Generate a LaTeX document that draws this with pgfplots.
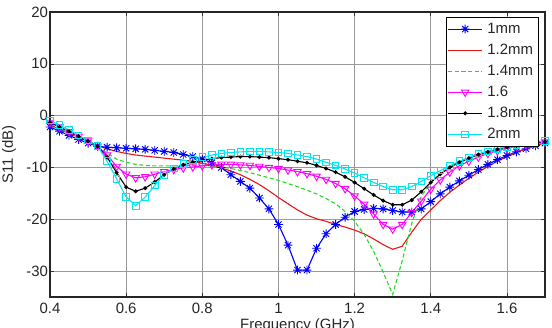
\documentclass[border=0pt]{standalone}
\usepackage{fontspec}
\setmainfont{Liberation Sans}
\usepackage{pgfplots}
\pgfplotsset{compat=1.18}

% Matlab-style asterisk: a plus and a cross laid over each other
\pgfdeclareplotmark{mstar}{%
  \pgfpathmoveto{\pgfqpoint{0pt}{\pgfplotmarksize}}%
  \pgfpathlineto{\pgfqpoint{0pt}{-\pgfplotmarksize}}%
  \pgfpathmoveto{\pgfqpoint{\pgfplotmarksize}{0pt}}%
  \pgfpathlineto{\pgfqpoint{-\pgfplotmarksize}{0pt}}%
  \pgfpathmoveto{\pgfqpoint{0.7071\pgfplotmarksize}{0.7071\pgfplotmarksize}}%
  \pgfpathlineto{\pgfqpoint{-0.7071\pgfplotmarksize}{-0.7071\pgfplotmarksize}}%
  \pgfpathmoveto{\pgfqpoint{-0.7071\pgfplotmarksize}{0.7071\pgfplotmarksize}}%
  \pgfpathlineto{\pgfqpoint{0.7071\pgfplotmarksize}{-0.7071\pgfplotmarksize}}%
  \pgfusepathqstroke}

\definecolor{mblue}{RGB}{0,0,255}
\definecolor{mred}{RGB}{235,20,20}
\definecolor{mgreen}{RGB}{40,215,40}
\definecolor{mmag}{RGB}{255,0,255}
\definecolor{mcyan}{RGB}{0,230,240}
\newcommand{\lblfont}{\fontsize{15}{18}\selectfont}

% S11 (dB) against frequency (GHz), one column per substrate thickness
\pgfplotstableread{
f     t10    t12    t14    t16    t18    t20
0.400 -2.2   -1.8   -1.6   -1.3   -1.3   -0.9
0.425 -3.0   -2.6   -2.5   -2.2   -2.2   -1.8
0.450 -3.8   -3.4   -3.3   -3.1   -3.1   -2.8
0.475 -4.6   -4.2   -4.2   -4.0   -4.0   -3.8
0.500 -5.3   -5.0   -5.0   -4.9   -4.9   -4.8
0.525 -5.9   -5.8   -5.9   -5.9   -5.9   -5.9
0.550 -6.1   -6.4   -7.2   -7.6   -8.0   -8.8
0.575 -6.2   -6.9   -8.4   -9.8   -11.0  -12.2
0.600 -6.3   -7.3   -9.0   -11.3  -13.8  -15.7
0.625 -6.4   -7.6   -9.4   -12.0  -14.6  -17.4
0.650 -6.5   -7.8   -9.6   -11.8  -14.0  -15.7
0.675 -6.7   -8.0   -9.7   -11.3  -12.8  -13.5
0.700 -6.9   -8.2   -9.7   -10.8  -11.4  -11.4
0.725 -7.1   -8.4   -9.7   -10.4  -10.3  -10.2
0.750 -7.5   -8.6   -9.6   -10.1  -9.5   -9.3
0.775 -7.9   -8.8   -9.6   -9.9   -9.0   -8.6
0.800 -8.4   -9.2   -9.6   -9.7   -8.6   -8.0
0.825 -9.1   -9.6   -9.7   -9.5   -8.3   -7.6
0.850 -10.0  -10.1  -9.9   -9.4   -8.1   -7.3
0.875 -11.4  -10.7  -10.2  -9.4   -8.0   -7.1
0.900 -12.7  -11.4  -10.6  -9.5   -7.9   -7.0
0.925 -14.0  -12.3  -11.0  -9.6   -7.9   -6.9
0.950 -15.9  -13.3  -11.5  -9.8   -8.0   -6.9
0.975 -18.0  -14.5  -12.0  -10.0  -8.1   -7.0
1.000 -21.0  -15.8  -12.5  -10.2  -8.3   -7.1
1.025 -25.0  -17.0  -13.1  -10.5  -8.5   -7.3
1.050 -29.8  -18.2  -13.7  -10.8  -8.8   -7.6
1.075 -29.8  -19.2  -14.4  -11.2  -9.1   -7.9
1.100 -25.6  -19.9  -15.1  -11.7  -9.6   -8.4
1.125 -22.8  -20.4  -16.0  -12.3  -10.2  -9.0
1.150 -21.0  -21.0  -17.0  -13.1  -10.9  -9.6
1.175 -19.6  -21.5  -18.5  -14.1  -11.8  -10.3
1.200 -18.5  -22.1  -20.4  -15.5  -12.9  -11.1
1.225 -18.1  -22.8  -22.9  -17.1  -14.1  -12.0
1.250 -17.9  -23.8  -26.2  -19.0  -15.3  -12.9
1.275 -18.0  -24.9  -30.2  -21.0  -16.4  -13.7
1.300 -18.3  -25.8  -34.5  -21.9  -17.2  -14.3
1.325 -18.6  -25.2  -28.0  -21.0  -17.2  -14.3
1.350 -18.6  -22.5  -20.8  -18.7  -16.3  -13.7
1.375 -18.0  -20.0  -15.6  -16.5  -14.7  -12.7
1.400 -16.6  -18.2  -12.8  -14.2  -12.9  -11.6
1.425 -15.1  -16.4  -11.2  -12.4  -11.3  -10.6
1.450 -13.8  -14.8  -10.0  -10.9  -10.0  -9.7
1.475 -12.6  -13.4  -9.1   -9.7   -9.0   -8.8
1.500 -11.5  -12.1  -8.3   -8.8   -8.2   -8.1
1.525 -10.4  -10.9  -7.7   -8.0   -7.5   -7.4
1.550 -9.4   -9.8   -7.1   -7.3   -7.0   -6.9
1.575 -8.5   -8.8   -6.7   -6.8   -6.5   -6.4
1.600 -7.7   -7.9   -6.3   -6.3   -6.1   -6.0
1.625 -7.0   -7.1   -6.0   -5.9   -5.8   -5.6
1.650 -6.4   -6.4   -5.7   -5.6   -5.5   -5.3
1.675 -5.8   -5.8   -5.4   -5.3   -5.2   -5.1
1.700 -5.3   -5.3   -5.2   -5.1   -5.0   -4.9
}\sdata

\begin{document}
\begin{tikzpicture}
\begin{axis}[
  at={(0,0)}, anchor=south west,
  scale only axis,
  width=495bp, height=285bp,
  xmin=0.4, xmax=1.7, ymin=-35, ymax=20,
  xtick={0.4,0.6,...,1.61},
  ytick={-30,-20,...,20},
  xticklabels={0.4,0.6,0.8,1,1.2,1.4,1.6},
  yticklabels={-30,-20,-10,0,10,20},
  /pgf/number format/assume math mode=true,
  tick align=inside,
  major tick length=4bp,
  tick style={black!80, line width=0.6bp},
  grid=major,
  major grid style={black!40, line width=0.6bp},
  axis line style={black!85, line width=1.1bp},
  ticklabel style={font=\lblfont, text=black!85},
  label style={font=\lblfont, text=black!85},
  xticklabel style={yshift=-2.5bp},
  yticklabel style={xshift=1.5bp},
  xlabel={Frequency (GHz)},
  xlabel style={yshift=2bp},
  ylabel={S11 (dB)},
  ylabel style={at={(axis description cs:-0.083,0.5)}, anchor=center},
  legend cell align=left,
  legend style={at={(rel axis cs:0.988,0.982)}, anchor=north east,
    draw=black, line width=0.9bp, fill=white, text=black!85,
    font=\lblfont,
    nodes={font=\lblfont, inner sep=4.6bp},
    row sep=0bp, inner xsep=1bp, inner ysep=1bp},
  legend image code/.code={%
    \draw[mark repeat=2, mark phase=2, #1]
      plot coordinates {(0bp,0bp) (17bp,0bp) (34bp,0bp)};},
  every axis plot/.append style={line width=1.1bp},
]
\addplot[mblue, mark=mstar, mark size=4.4bp, mark options={solid, line width=0.9bp}]
  table[x=f, y=t10] {\sdata};
\addlegendentry{1mm}
\addplot[mred, no marks] table[x=f, y=t12] {\sdata};
\addlegendentry{1.2mm}
\addplot[mgreen, dash pattern=on 4bp off 2.6bp, no marks] table[x=f, y=t14] {\sdata};
\addlegendentry{1.4mm}
\addplot[mmag, mark=triangle, mark size=4.3bp, mark options={solid, rotate=180, line width=0.9bp}]
  table[x=f, y=t16] {\sdata};
\addlegendentry{1.6}
\addplot[black, mark=*, mark size=1.4bp, mark options={solid}]
  table[x=f, y=t18] {\sdata};
\addlegendentry{1.8mm}
\addplot[mcyan, mark=square, mark size=3.3bp, mark options={solid, line width=0.9bp}]
  table[x=f, y=t20] {\sdata};
\addlegendentry{2mm}
\end{axis}
\pgfresetboundingbox
\useasboundingbox (-50bp,-31bp) rectangle (502bp,297bp);
\end{tikzpicture}
\end{document}
